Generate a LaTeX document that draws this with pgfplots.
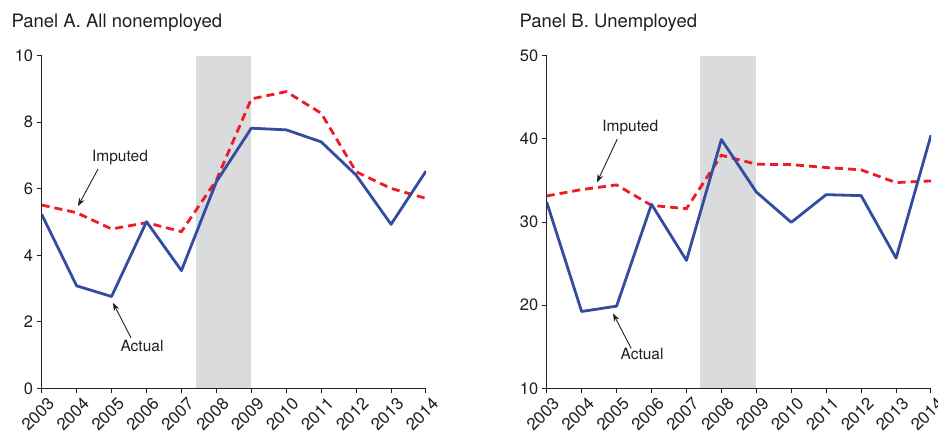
\documentclass[border=0pt]{standalone}
\usepackage{fontspec}
\setmainfont{TeX Gyre Heros}
\usepackage{pgfplots}
\pgfplotsset{compat=1.18}
\usetikzlibrary{arrows.meta}

\definecolor{actualblue}{RGB}{52,76,160}
\definecolor{imputedred}{RGB}{237,28,36}
\definecolor{recession}{RGB}{218,219,221}
\definecolor{ink}{RGB}{35,31,32}

\pgfplotsset{
  panel/.style={
    scale only axis,
    width=384.3pt, height=332.6pt,
    xmin=2003, xmax=2014,
    xtick={2003,...,2014},
    axis lines*=left,
    axis line style={line width=1.2pt, ink},
    tick style={line width=1pt, ink},
    tick align=outside,
    major tick length=5pt,
    /pgf/number format/assume math mode=true,
    /pgf/number format/1000 sep={},
    xticklabel style={xshift=12pt, yshift=-5pt, rotate=45, anchor=east,
      text=ink, font=\fontsize{17}{17}\selectfont},
    yticklabel style={text=ink, font=\fontsize{16.5}{16.5}\selectfont},
  },
}
\tikzset{
  actual/.style={actualblue, line width=2.8pt, line join=round},
  imputed/.style={imputedred, line width=2.8pt, dash pattern=on 8pt off 5pt},
  note/.style={text=ink, font=\fontsize{15.5}{15.5}\selectfont},
  pointer/.style={-{Stealth[length=8pt,width=6pt]}, line width=0.9pt, ink},
}

\begin{document}
\begin{tikzpicture}

% Panel A: all nonemployed
\begin{axis}[panel, at={(41.7pt,-388.3pt)}, anchor=south west,
  ymin=0, ymax=10, ytick={0,2,...,10}]
  \addplot[fill=recession, draw=none] coordinates
    {(2007.42,0) (2009,0) (2009,10) (2007.42,10)} -- cycle;
  \addplot[imputed] coordinates {
    (2003,5.51) (2004,5.28) (2005,4.79) (2006,4.98) (2007,4.71) (2008,6.26)
    (2009,8.70) (2010,8.92) (2011,8.27) (2012,6.51) (2013,6.01) (2014,5.71)};
  \addplot[actual] coordinates {
    (2003,5.23) (2004,3.08) (2005,2.76) (2006,5.01) (2007,3.54) (2008,6.21)
    (2009,7.82) (2010,7.77) (2011,7.41) (2012,6.41) (2013,4.93) (2014,6.53)};
  \node[note] at (axis cs:2005.24,6.95) {Imputed};
  \draw[pointer] (axis cs:2004.61,6.59) -- (axis cs:2004.04,5.48);
  \node[note] at (axis cs:2005.87,1.27) {Actual};
  \draw[pointer] (axis cs:2005.56,1.51) -- (axis cs:2005.04,2.57);
\end{axis}

% Panel B: unemployed
\begin{axis}[panel, at={(546.7pt,-388.3pt)}, anchor=south west,
  ymin=10, ymax=50, ytick={10,20,...,50}]
  \addplot[fill=recession, draw=none] coordinates
    {(2007.4,10) (2009,10) (2009,50) (2007.4,50)} -- cycle;
  \addplot[imputed] coordinates {
    (2003,33.13) (2004,33.90) (2005,34.46) (2006,32.00) (2007,31.60) (2008,38.03)
    (2009,36.95) (2010,36.90) (2011,36.55) (2012,36.27) (2013,34.74) (2014,34.94)};
  \addplot[actual] coordinates {
    (2003,32.40) (2004,19.24) (2005,19.88) (2006,32.13) (2007,25.38) (2008,39.92)
    (2009,33.61) (2010,29.96) (2011,33.29) (2012,33.17) (2013,25.66) (2014,40.44)};
  \node[note] at (axis cs:2005.39,41.4) {Imputed};
  \draw[pointer] (axis cs:2005.02,39.97) -- (axis cs:2004.44,34.78);
  \node[note] at (axis cs:2005.73,14.18) {Actual};
  \draw[pointer] (axis cs:2005.42,14.78) -- (axis cs:2004.90,19.00);
\end{axis}

\node[anchor=base west, text=ink, font=\fontsize{18.5}{18.5}\selectfont]
  at (8pt,-27.3pt) {Panel A. All nonemployed};
\node[anchor=base west, text=ink, font=\fontsize{18.5}{18.5}\selectfont]
  at (516pt,-27.3pt) {Panel B. Unemployed};

\pgfresetboundingbox
\path (0,0) rectangle (938pt,-433pt);
\end{tikzpicture}
\end{document}
